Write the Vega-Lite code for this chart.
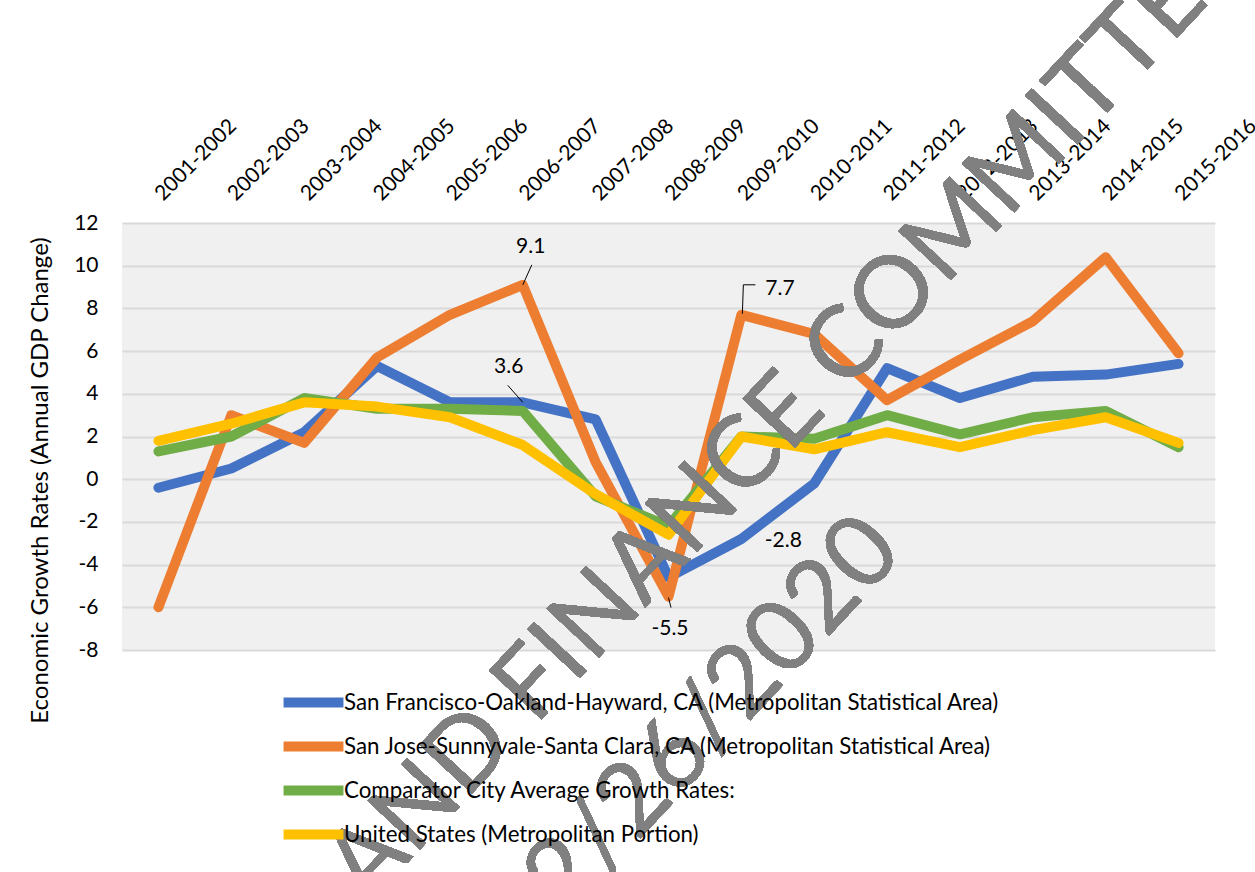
{
  "$schema": "https://vega.github.io/schema/vega-lite/v6.json",
  "width": 1093,
  "height": 427,
  "autosize": {"type": "none"},
  "padding": {"left": 122, "top": 223, "right": 40, "bottom": 222},
  "background": "white",
  "config": {
    "font": "Lato",
    "locale": {"number": {"decimal": ".", "thousands": ",", "grouping": [3], "currency": ["$", ""], "minus": "-"}},
    "view": {"fill": "#f0f0f0", "stroke": null},
    "text": {"font": "Lato"}
  },
  "data": {
    "values": [
      {"period": "2001-2002", "series": "San Francisco-Oakland-Hayward, CA (Metropolitan Statistical Area)", "value": -0.4},
      {"period": "2002-2003", "series": "San Francisco-Oakland-Hayward, CA (Metropolitan Statistical Area)", "value": 0.5},
      {"period": "2003-2004", "series": "San Francisco-Oakland-Hayward, CA (Metropolitan Statistical Area)", "value": 2.2},
      {"period": "2004-2005", "series": "San Francisco-Oakland-Hayward, CA (Metropolitan Statistical Area)", "value": 5.3},
      {"period": "2005-2006", "series": "San Francisco-Oakland-Hayward, CA (Metropolitan Statistical Area)", "value": 3.6},
      {"period": "2006-2007", "series": "San Francisco-Oakland-Hayward, CA (Metropolitan Statistical Area)", "value": 3.6},
      {"period": "2007-2008", "series": "San Francisco-Oakland-Hayward, CA (Metropolitan Statistical Area)", "value": 2.8},
      {"period": "2008-2009", "series": "San Francisco-Oakland-Hayward, CA (Metropolitan Statistical Area)", "value": -4.6},
      {"period": "2009-2010", "series": "San Francisco-Oakland-Hayward, CA (Metropolitan Statistical Area)", "value": -2.8},
      {"period": "2010-2011", "series": "San Francisco-Oakland-Hayward, CA (Metropolitan Statistical Area)", "value": -0.2},
      {"period": "2011-2012", "series": "San Francisco-Oakland-Hayward, CA (Metropolitan Statistical Area)", "value": 5.2},
      {"period": "2012-2013", "series": "San Francisco-Oakland-Hayward, CA (Metropolitan Statistical Area)", "value": 3.8},
      {"period": "2013-2014", "series": "San Francisco-Oakland-Hayward, CA (Metropolitan Statistical Area)", "value": 4.8},
      {"period": "2014-2015", "series": "San Francisco-Oakland-Hayward, CA (Metropolitan Statistical Area)", "value": 4.9},
      {"period": "2015-2016", "series": "San Francisco-Oakland-Hayward, CA (Metropolitan Statistical Area)", "value": 5.4},
      {"period": "2001-2002", "series": "San Jose-Sunnyvale-Santa Clara, CA (Metropolitan Statistical Area)", "value": -6.0},
      {"period": "2002-2003", "series": "San Jose-Sunnyvale-Santa Clara, CA (Metropolitan Statistical Area)", "value": 3.0},
      {"period": "2003-2004", "series": "San Jose-Sunnyvale-Santa Clara, CA (Metropolitan Statistical Area)", "value": 1.7},
      {"period": "2004-2005", "series": "San Jose-Sunnyvale-Santa Clara, CA (Metropolitan Statistical Area)", "value": 5.7},
      {"period": "2005-2006", "series": "San Jose-Sunnyvale-Santa Clara, CA (Metropolitan Statistical Area)", "value": 7.7},
      {"period": "2006-2007", "series": "San Jose-Sunnyvale-Santa Clara, CA (Metropolitan Statistical Area)", "value": 9.1},
      {"period": "2007-2008", "series": "San Jose-Sunnyvale-Santa Clara, CA (Metropolitan Statistical Area)", "value": 0.8},
      {"period": "2008-2009", "series": "San Jose-Sunnyvale-Santa Clara, CA (Metropolitan Statistical Area)", "value": -5.5},
      {"period": "2009-2010", "series": "San Jose-Sunnyvale-Santa Clara, CA (Metropolitan Statistical Area)", "value": 7.7},
      {"period": "2010-2011", "series": "San Jose-Sunnyvale-Santa Clara, CA (Metropolitan Statistical Area)", "value": 6.8},
      {"period": "2011-2012", "series": "San Jose-Sunnyvale-Santa Clara, CA (Metropolitan Statistical Area)", "value": 3.7},
      {"period": "2012-2013", "series": "San Jose-Sunnyvale-Santa Clara, CA (Metropolitan Statistical Area)", "value": 5.6},
      {"period": "2013-2014", "series": "San Jose-Sunnyvale-Santa Clara, CA (Metropolitan Statistical Area)", "value": 7.4},
      {"period": "2014-2015", "series": "San Jose-Sunnyvale-Santa Clara, CA (Metropolitan Statistical Area)", "value": 10.4},
      {"period": "2015-2016", "series": "San Jose-Sunnyvale-Santa Clara, CA (Metropolitan Statistical Area)", "value": 5.9},
      {"period": "2001-2002", "series": "Comparator City Average Growth Rates:", "value": 1.3},
      {"period": "2002-2003", "series": "Comparator City Average Growth Rates:", "value": 2.0},
      {"period": "2003-2004", "series": "Comparator City Average Growth Rates:", "value": 3.8},
      {"period": "2004-2005", "series": "Comparator City Average Growth Rates:", "value": 3.3},
      {"period": "2005-2006", "series": "Comparator City Average Growth Rates:", "value": 3.3},
      {"period": "2006-2007", "series": "Comparator City Average Growth Rates:", "value": 3.2},
      {"period": "2007-2008", "series": "Comparator City Average Growth Rates:", "value": -0.8},
      {"period": "2008-2009", "series": "Comparator City Average Growth Rates:", "value": -2.2},
      {"period": "2009-2010", "series": "Comparator City Average Growth Rates:", "value": 2.0},
      {"period": "2010-2011", "series": "Comparator City Average Growth Rates:", "value": 1.9},
      {"period": "2011-2012", "series": "Comparator City Average Growth Rates:", "value": 3.0},
      {"period": "2012-2013", "series": "Comparator City Average Growth Rates:", "value": 2.1},
      {"period": "2013-2014", "series": "Comparator City Average Growth Rates:", "value": 2.9},
      {"period": "2014-2015", "series": "Comparator City Average Growth Rates:", "value": 3.2},
      {"period": "2015-2016", "series": "Comparator City Average Growth Rates:", "value": 1.5},
      {"period": "2001-2002", "series": "United States (Metropolitan Portion)", "value": 1.8},
      {"period": "2002-2003", "series": "United States (Metropolitan Portion)", "value": 2.6},
      {"period": "2003-2004", "series": "United States (Metropolitan Portion)", "value": 3.6},
      {"period": "2004-2005", "series": "United States (Metropolitan Portion)", "value": 3.4},
      {"period": "2005-2006", "series": "United States (Metropolitan Portion)", "value": 2.9},
      {"period": "2006-2007", "series": "United States (Metropolitan Portion)", "value": 1.6},
      {"period": "2007-2008", "series": "United States (Metropolitan Portion)", "value": -0.7},
      {"period": "2008-2009", "series": "United States (Metropolitan Portion)", "value": -2.6},
      {"period": "2009-2010", "series": "United States (Metropolitan Portion)", "value": 2.0},
      {"period": "2010-2011", "series": "United States (Metropolitan Portion)", "value": 1.4},
      {"period": "2011-2012", "series": "United States (Metropolitan Portion)", "value": 2.2},
      {"period": "2012-2013", "series": "United States (Metropolitan Portion)", "value": 1.5},
      {"period": "2013-2014", "series": "United States (Metropolitan Portion)", "value": 2.3},
      {"period": "2014-2015", "series": "United States (Metropolitan Portion)", "value": 2.9},
      {"period": "2015-2016", "series": "United States (Metropolitan Portion)", "value": 1.7}
    ]
  },
  "encoding": {
    "x": {
      "field": "period",
      "type": "ordinal",
      "scale": {"type": "point", "padding": 0.5},
      "axis": {
        "orient": "top",
        "title": null,
        "labelAngle": -45,
        "labelAlign": "left",
        "labelBaseline": "middle",
        "labelPadding": 26,
        "labelFontSize": 21,
        "labelColor": "black",
        "ticks": false,
        "domain": false,
        "grid": false
      }
    },
    "y": {
      "field": "value",
      "type": "quantitative",
      "scale": {"domain": [-8, 12], "nice": false, "zero": false},
      "axis": {
        "values": [-8, -6, -4, -2, 0, 2, 4, 6, 8, 10, 12],
        "title": "Economic Growth Rates (Annual GDP Change)",
        "titleFontSize": 24,
        "titleFontWeight": "normal",
        "titleColor": "black",
        "titleAngle": -90,
        "titleAlign": "center",
        "titleBaseline": "middle",
        "titleX": -82,
        "titleY": 257,
        "grid": true,
        "gridColor": "#d9d9d9",
        "gridWidth": 2,
        "domain": false,
        "ticks": false,
        "labelFontSize": 21,
        "labelColor": "black",
        "labelPadding": 24
      }
    }
  },
  "layer": [
    {
      "mark": {"type": "line", "strokeCap": "round", "strokeJoin": "round"},
      "encoding": {
        "color": {
          "field": "series",
          "type": "nominal",
          "scale": {
            "domain": [
              "San Francisco-Oakland-Hayward, CA (Metropolitan Statistical Area)",
              "San Jose-Sunnyvale-Santa Clara, CA (Metropolitan Statistical Area)",
              "Comparator City Average Growth Rates:",
              "United States (Metropolitan Portion)"
            ],
            "range": ["#4472C4", "#ED7D31", "#70AD47", "#FFC000"]
          },
          "legend": {
            "orient": "none",
            "legendX": 168,
            "legendY": 456,
            "title": null,
            "direction": "vertical",
            "symbolType": "M-1.65,0H1.65",
            "symbolSize": 1318,
            "labelFontSize": 22.3,
            "labelColor": "black",
            "labelLimit": 900,
            "labelOffset": 7,
            "rowPadding": 0
          }
        },
        "strokeWidth": {
          "field": "series",
          "type": "nominal",
          "scale": {
            "domain": [
              "San Francisco-Oakland-Hayward, CA (Metropolitan Statistical Area)",
              "San Jose-Sunnyvale-Santa Clara, CA (Metropolitan Statistical Area)",
              "Comparator City Average Growth Rates:",
              "United States (Metropolitan Portion)"
            ],
            "range": [10, 10, 5, 5]
          },
          "legend": {
            "orient": "none",
            "legendX": 168,
            "legendY": 456,
            "title": null,
            "direction": "vertical",
            "symbolType": "M-1.65,0H1.65",
            "symbolSize": 1318,
            "labelFontSize": 22.3,
            "labelColor": "black",
            "labelLimit": 900,
            "labelOffset": 7,
            "rowPadding": 0
          }
        }
      }
    },
    {
      "transform": [{"filter": "datum.series === 'San Jose-Sunnyvale-Santa Clara, CA (Metropolitan Statistical Area)' && datum.period === '2006-2007'"}],
      "layer": [
        {"mark": {"type": "text", "fontSize": 21, "color": "black", "align": "center", "baseline": "middle", "dx": 8, "dy": -38}, "encoding": {"text": {"field": "value", "format": ".1f"}}},
        {"mark": {"type": "rule", "color": "black", "strokeWidth": 1, "x2Offset": 9, "y2Offset": -20}, "encoding": {"x2": {"field": "period"}, "y2": {"field": "value"}}}
      ]
    },
    {
      "transform": [{"filter": "datum.series === 'San Francisco-Oakland-Hayward, CA (Metropolitan Statistical Area)' && datum.period === '2006-2007'"}],
      "layer": [
        {"mark": {"type": "text", "fontSize": 21, "color": "black", "align": "center", "baseline": "middle", "dx": -14, "dy": -35}, "encoding": {"text": {"field": "value", "format": ".1f"}}},
        {"mark": {"type": "rule", "color": "black", "strokeWidth": 1, "x2Offset": -15, "y2Offset": -17}, "encoding": {"x2": {"field": "period"}, "y2": {"field": "value"}}}
      ]
    },
    {
      "transform": [{"filter": "datum.series === 'San Jose-Sunnyvale-Santa Clara, CA (Metropolitan Statistical Area)' && datum.period === '2009-2010'"}],
      "layer": [
        {"mark": {"type": "text", "fontSize": 21, "color": "black", "align": "left", "baseline": "middle", "dx": 24, "dy": -26}, "encoding": {"text": {"field": "value", "format": ".1f"}}},
        {"mark": {"type": "rule", "color": "black", "strokeWidth": 1, "xOffset": 1, "yOffset": -1, "x2Offset": 2, "y2Offset": -30}, "encoding": {"x2": {"field": "period"}, "y2": {"field": "value"}}},
        {"mark": {"type": "rule", "color": "black", "strokeWidth": 1, "xOffset": 2, "yOffset": -30, "x2Offset": 14, "y2Offset": -30}, "encoding": {"x2": {"field": "period"}, "y2": {"field": "value"}}}
      ]
    },
    {
      "transform": [{"filter": "datum.series === 'San Jose-Sunnyvale-Santa Clara, CA (Metropolitan Statistical Area)' && datum.period === '2008-2009'"}],
      "layer": [
        {"mark": {"type": "text", "fontSize": 21, "color": "black", "align": "center", "baseline": "middle", "dx": 1.5, "dy": 32}, "encoding": {"text": {"field": "value", "format": ".1f"}}},
        {"mark": {"type": "rule", "color": "black", "strokeWidth": 1, "yOffset": 1, "x2Offset": 2.5, "y2Offset": 11}, "encoding": {"x2": {"field": "period"}, "y2": {"field": "value"}}}
      ]
    },
    {
      "transform": [{"filter": "datum.series === 'San Francisco-Oakland-Hayward, CA (Metropolitan Statistical Area)' && datum.period === '2009-2010'"}],
      "mark": {"type": "text", "fontSize": 21, "color": "black", "align": "center", "baseline": "middle", "dx": 42, "dy": 2},
      "encoding": {"text": {"field": "value", "format": ".1f"}}
    },
    {
      "mark": {"type": "text", "text": "AND FINANCE COMMITTEE", "fontSize": 100, "color": "#808080", "opacity": 0.75, "angle": -47, "align": "center", "baseline": "middle", "dx": 44, "dy": 21},
      "encoding": {"x": {"datum": "2009-2010"}, "y": {"datum": 2.3}}
    },
    {
      "mark": {"type": "text", "text": "02/26/2020", "fontSize": 100, "color": "#808080", "opacity": 0.75, "angle": -47, "align": "center", "baseline": "middle", "dx": -16, "dy": 50},
      "encoding": {"x": {"datum": "2008-2009"}, "y": {"datum": -9.9}}
    }
  ]
}
